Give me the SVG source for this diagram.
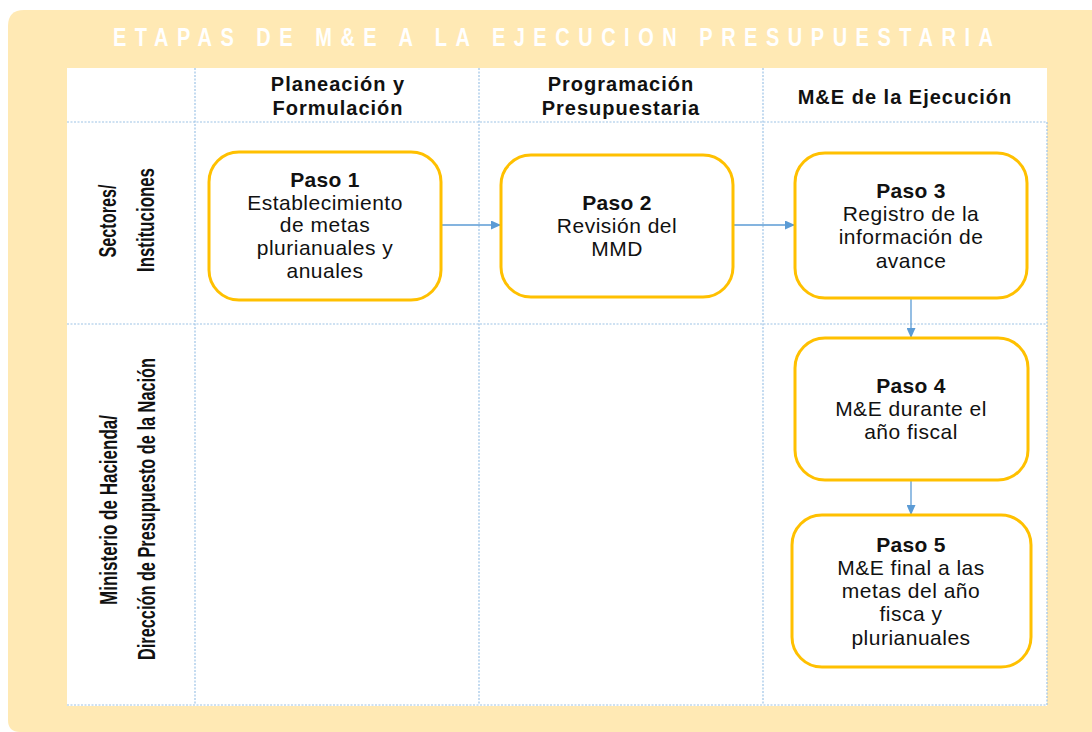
<svg xmlns="http://www.w3.org/2000/svg" width="1092" height="732" viewBox="0 0 1092 732">
  <defs>
    <style>
      .panel { fill: #FFE9B4; }
      .title { fill: #FFFFFF; font-family: "Liberation Sans", Arial, sans-serif; font-weight: bold; font-size: 25px; }
      .grid { stroke: #9DC3E6; stroke-width: 1.2; stroke-dasharray: 2 1.5; fill: none; }
      .head { font-family: "Liberation Sans", Arial, sans-serif; font-weight: bold; font-size: 20px; fill: #111111; text-anchor: middle; letter-spacing: 1px; }
      .lane { font-family: "Liberation Sans", Arial, sans-serif; font-weight: bold; font-size: 23px; fill: #111111; text-anchor: middle; }
      .box { fill: #FFFFFF; stroke: #FFC000; stroke-width: 3; }
      .step { font-family: "Liberation Sans", Arial, sans-serif; font-weight: bold; font-size: 21px; fill: #111111; text-anchor: middle; letter-spacing: 0.3px; }
      .body { font-family: "Liberation Sans", Arial, sans-serif; font-size: 21px; fill: #111111; text-anchor: middle; letter-spacing: 0.5px; }
      .link { stroke: #5B9BD5; stroke-width: 1.3; fill: none; marker-end: url(#arrow); }
    </style>
    <marker id="arrow" markerWidth="10" markerHeight="9" refX="10" refY="4.5" orient="auto" markerUnits="userSpaceOnUse">
      <path d="M0,0 L10,4.5 L0,9 Z" fill="#5B9BD5"/>
    </marker>
  </defs>

  <!-- background panel with title band -->
  <rect x="0" y="0" width="1092" height="732" fill="#FFFFFF"/>
  <path class="panel" d="M8,26 Q8,10 24,10 L1100,10 L1100,732 L20,732 Q8,732 8,720 Z"/>
  <text class="title" transform="translate(113,46) scale(0.8,1)" x="0" y="0" textLength="1100" lengthAdjust="spacing">ETAPAS DE M&amp;E A LA EJECUCION PRESUPUESTARIA</text>

  <!-- swimlane table -->
  <g id="table">
    <rect x="67" y="68" width="980" height="638" fill="#FFFFFF"/>
    <line class="grid" x1="67" y1="122" x2="1047" y2="122"/>
    <line class="grid" x1="67" y1="324" x2="1047" y2="324"/>
    <line class="grid" x1="67" y1="705" x2="1047" y2="705"/>
    <line class="grid" x1="195" y1="68" x2="195" y2="705"/>
    <line class="grid" x1="479" y1="68" x2="479" y2="705"/>
    <line class="grid" x1="763" y1="68" x2="763" y2="705"/>
    <line class="grid" x1="1047" y1="122" x2="1047" y2="705"/>
  </g>

  <!-- column headers -->
  <g id="col-planeacion">
    <text class="head" x="338" y="91">Planeación y</text>
    <text class="head" x="338" y="115">Formulación</text>
  </g>
  <g id="col-programacion">
    <text class="head" x="621" y="91">Programación</text>
    <text class="head" x="621" y="115">Presupuestaria</text>
  </g>
  <g id="col-me">
    <text class="head" x="905" y="104">M&amp;E de la Ejecución</text>
  </g>

  <!-- lane labels -->
  <g id="lane-sectores">
    <text class="lane" transform="translate(116,221) rotate(-90)" textLength="73" lengthAdjust="spacingAndGlyphs">Sectores/</text>
    <text class="lane" transform="translate(154,220) rotate(-90)" textLength="104" lengthAdjust="spacingAndGlyphs">Instituciones</text>
  </g>
  <g id="lane-ministerio">
    <text class="lane" transform="translate(117,510) rotate(-90)" textLength="190" lengthAdjust="spacingAndGlyphs">Ministerio de Hacienda/</text>
    <text class="lane" transform="translate(155,509) rotate(-90)" textLength="302" lengthAdjust="spacingAndGlyphs">Dirección de Presupuesto de la Nación</text>
  </g>

  <!-- connectors -->
  <g id="connectors">
    <line class="link" x1="441" y1="225" x2="501" y2="225"/>
    <line class="link" x1="733" y1="225" x2="795" y2="225"/>
    <line class="link" x1="911" y1="298" x2="911" y2="338"/>
    <line class="link" x1="911" y1="480" x2="911" y2="515"/>
  </g>

  <!-- steps -->
  <g id="paso1">
    <rect class="box" x="209" y="152" width="232" height="148" rx="30"/>
    <text class="step" x="325" y="187">Paso 1</text>
    <text class="body" x="325" y="210">Establecimiento</text>
    <text class="body" x="325" y="232">de metas</text>
    <text class="body" x="325" y="255">plurianuales y</text>
    <text class="body" x="325" y="278">anuales</text>
  </g>
  <g id="paso2">
    <rect class="box" x="501" y="155" width="232" height="142" rx="30"/>
    <text class="step" x="617" y="210">Paso 2</text>
    <text class="body" x="617" y="233">Revisión del</text>
    <text class="body" x="617" y="256">MMD</text>
  </g>
  <g id="paso3">
    <rect class="box" x="795" y="153" width="232" height="145" rx="30"/>
    <text class="step" x="911" y="198">Paso 3</text>
    <text class="body" x="911" y="221">Registro de la</text>
    <text class="body" x="911" y="244">información de</text>
    <text class="body" x="911" y="268">avance</text>
  </g>
  <g id="paso4">
    <rect class="box" x="795" y="338" width="233" height="142" rx="30"/>
    <text class="step" x="911" y="393">Paso 4</text>
    <text class="body" x="911" y="416">M&amp;E durante el</text>
    <text class="body" x="911" y="439">año fiscal</text>
  </g>
  <g id="paso5">
    <rect class="box" x="792" y="515" width="239" height="152" rx="30"/>
    <text class="step" x="911" y="552">Paso 5</text>
    <text class="body" x="911" y="575">M&amp;E final a las</text>
    <text class="body" x="911" y="598">metas del año</text>
    <text class="body" x="911" y="621">fisca y</text>
    <text class="body" x="911" y="645">plurianuales</text>
  </g>
</svg>
